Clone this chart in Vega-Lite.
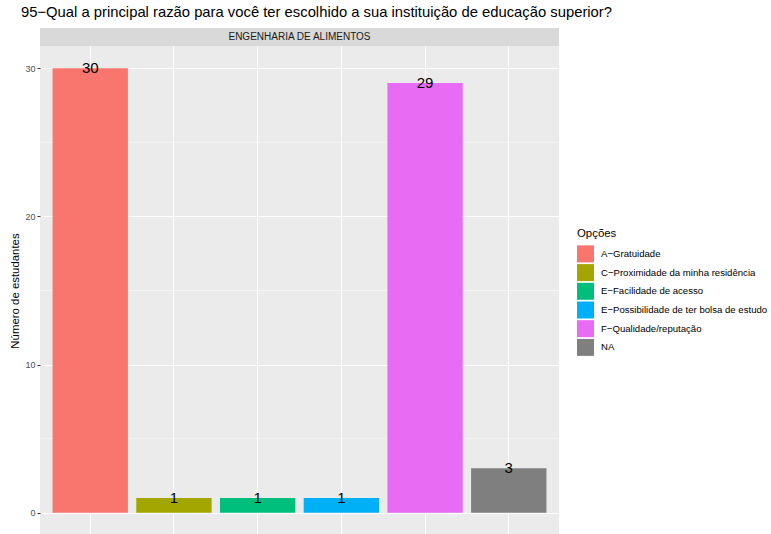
{
  "$schema": "https://vega.github.io/schema/vega-lite/v6.json",
  "background": "white",
  "padding": {"left": 9, "top": 5, "right": 5, "bottom": 0},
  "spacing": 0,
  "title": {
    "text": "95−Qual a principal razão para você ter escolhido a sua instituição de educação superior?",
    "anchor": "start",
    "frame": "bounds",
    "fontSize": 14.8,
    "fontWeight": "normal",
    "color": "black",
    "offset": 8,
    "dx": 11
  },
  "config": {
    "font": "Liberation Sans",
    "view": {"stroke": null},
    "axis": {"labelFont": "Liberation Sans", "titleFont": "Liberation Sans"},
    "legend": {"labelFont": "Liberation Sans", "titleFont": "Liberation Sans"}
  },
  "vconcat": [
    {
      "width": 519,
      "height": 18,
      "view": {"fill": "#D9D9D9", "stroke": null},
      "data": {"values": [{"strip": "ENGENHARIA DE ALIMENTOS"}]},
      "mark": {"type": "text", "fontSize": 10, "color": "#1A1A1A", "baseline": "middle", "align": "center"},
      "encoding": {"text": {"field": "strip", "type": "nominal"}}
    },
    {
      "width": 519,
      "height": 489,
      "view": {"fill": "#EBEBEB", "stroke": null},
      "data": {
        "values": [
          {"opcao": "A−Gratuidade", "n": 30},
          {"opcao": "C−Proximidade da minha residência", "n": 1},
          {"opcao": "E−Facilidade de acesso", "n": 1},
          {"opcao": "E−Possibilidade de ter bolsa de estudo", "n": 1},
          {"opcao": "F−Qualidade/reputação", "n": 29},
          {"opcao": "NA", "n": 3}
        ]
      },
      "layer": [
        {
          "data": {"values": [{"g": 5}, {"g": 15}, {"g": 25}]},
          "mark": {"type": "rule", "color": "white", "strokeWidth": 0.5},
          "encoding": {
            "y": {"field": "g", "type": "quantitative"}
          }
        },
        {
          "mark": {"type": "bar"},
          "encoding": {
            "x": {
              "field": "opcao",
              "type": "nominal",
              "sort": null,
              "scale": {"paddingInner": 0.1, "paddingOuter": 0.15},
              "axis": {
                "title": null,
                "labels": false,
                "ticks": false,
                "domain": false,
                "grid": true,
                "gridColor": "white",
                "gridWidth": 1,
                "bandPosition": 0.5
              }
            },
            "y": {
              "field": "n",
              "type": "quantitative",
              "scale": {"domain": [-1.5, 31.5], "nice": false, "zero": false},
              "axis": {
                "values": [0, 10, 20, 30],
                "title": "Número de estudantes",
                "titleFontSize": 11.4,
                "titleFontWeight": "normal",
                "titleColor": "black",
                "titlePadding": 4,
                "labelFontSize": 9,
                "labelColor": "#4D4D4D",
                "labelPadding": 2,
                "tickSize": 3,
                "tickColor": "#333333",
                "domain": false,
                "grid": true,
                "gridColor": "white",
                "gridWidth": 1
              }
            },
            "y2": {"datum": 0},
            "color": {
              "field": "opcao",
              "type": "nominal",
              "scale": {
                "domain": ["A−Gratuidade", "C−Proximidade da minha residência", "E−Facilidade de acesso", "E−Possibilidade de ter bolsa de estudo", "F−Qualidade/reputação", "NA"],
                "range": ["#F8766D", "#A3A500", "#00BF7D", "#00B0F6", "#E76BF3", "#7F7F7F"]
              },
              "legend": {
                "title": "Opções",
                "orient": "none",
                "legendX": 537,
                "legendY": 200,
                "titleFontSize": 11.4,
                "titleFontWeight": "normal",
                "titleColor": "black",
                "titlePadding": 6,
                "labelFontSize": 9.6,
                "labelColor": "black",
                "labelOffset": 7,
                "labelLimit": 400,
                "symbolType": "square",
                "symbolSize": 289,
                "symbolStrokeWidth": 0,
                "symbolOpacity": 1,
                "rowPadding": 1.7
              }
            }
          }
        },
        {
          "mark": {"type": "text", "fontSize": 15, "color": "black", "baseline": "middle", "align": "center"},
          "encoding": {
            "x": {"field": "opcao", "type": "nominal", "sort": null},
            "y": {"field": "n", "type": "quantitative"},
            "text": {"field": "n", "type": "quantitative"}
          }
        }
      ]
    }
  ]
}
